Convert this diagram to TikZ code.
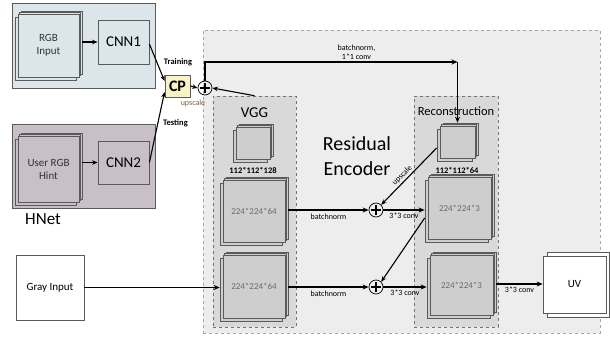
\documentclass[tikz,border=0pt]{standalone}
\usepackage{fontspec}
\setmainfont{Carlito}
\usetikzlibrary{arrows.meta,calc}

\definecolor{hnetblue}{HTML}{DBE5EA}
\definecolor{hnetmauve}{HTML}{C9BFC6}
\definecolor{cpyellow}{HTML}{F7F3C4}
\definecolor{encbg}{HTML}{EDEDED}
\definecolor{subbg}{HTML}{D9D9D9}
\definecolor{layerfill}{HTML}{CECECE}
\definecolor{edgegray}{HTML}{5A5A5A}
\definecolor{dimgraytext}{HTML}{6A6A6A}
\definecolor{upbrown}{HTML}{7A5A40}

% a stack of feature maps: three offset sheets behind a named front sheet
% #1 name, #2 x, #3 y, #4 width, #5 height, #6 fill, #7 extra options of the front sheet
\newcommand{\layerstack}[7]{%
  \foreach \sx/\sy in {3/3,1.5/1.5,-3/-3}{%
    \node[stackbox, fill=#6, minimum width=#4pt, minimum height=#5pt,
          xshift=\sx pt, yshift=\sy pt] at (#2,#3) {};}
  \node[stackbox, fill=#6, minimum width=#4pt, minimum height=#5pt, #7] (#1) at (#2,#3)}

\begin{document}
\begin{tikzpicture}[x=1pt,y=-1pt,
  arr/.style={draw=black, line width=1.3pt, -{Stealth[length=6pt,width=5pt]}},
  thinarr/.style={draw=black, line width=1.1pt, -{Stealth[length=5.5pt,width=4.5pt]}},
  panel/.style={draw=edgegray, line width=0.7pt, inner sep=0pt},
  encbox/.style={draw=gray!70, dashed, line width=0.6pt, fill=encbg, inner sep=0pt},
  subbox/.style={draw=gray!90!black, dashed, line width=0.6pt, fill=subbg, inner sep=0pt},
  stackbox/.style={draw=edgegray, line width=0.7pt, inner sep=0pt, align=center,
                   font=\fontsize{9}{10}\selectfont, text=dimgraytext},
  inputtext/.style={font=\fontsize{11}{13}\selectfont, text=black!80},
  netbox/.style={draw=edgegray, line width=0.8pt, inner sep=0pt, font=\fontsize{15}{17}\selectfont},
  plusnode/.style={circle, draw=black, line width=0.7pt, minimum size=14pt, inner sep=0pt,
    path picture={\draw[line width=1.7pt] ([xshift=-5pt]path picture bounding box.center) -- ([xshift=5pt]path picture bounding box.center);
                  \draw[line width=1.7pt] ([yshift=-5pt]path picture bounding box.center) -- ([yshift=5pt]path picture bounding box.center);}},
  lbl/.style={inner sep=1pt, font=\fontsize{8}{9}\selectfont},
  boldlbl/.style={inner sep=1pt, font=\bfseries\fontsize{8.5}{9.5}\selectfont},
]
\useasboundingbox (0,0) rectangle (610,337);

% ---------- containers ----------
\node[encbox, minimum width=397pt, minimum height=303pt] (enc) at (401.5,181.5) {};
\node[panel, fill=hnetblue, minimum width=143pt, minimum height=85pt] (hntop) at (83.5,45.5) {};
\node[panel, fill=hnetmauve, minimum width=143pt, minimum height=84pt] (hnbot) at (83.5,166) {};

% ---------- HNet ----------
\layerstack{rgb}{48.5}{45.5}{61}{63}{hnetblue}{inputtext} {RGB\\Input};
\layerstack{hint}{48.5}{169}{61}{66}{hnetmauve}{inputtext} {User RGB\\Hint};

\node[netbox, fill=hnetblue, minimum width=51pt, minimum height=44pt] (cnn1) at (123.5,42) {CNN1};
\node[netbox, fill=hnetmauve, minimum width=51pt, minimum height=43pt] (cnn2) at (123.5,162.5) {CNN2};

\node[font=\fontsize{17}{19}\selectfont, inner sep=0pt] (hnet) at (43,219) {HNet};

\node[draw=edgegray, line width=0.9pt, fill=cpyellow, minimum width=25pt, minimum height=22pt,
      inner sep=0pt, font=\bfseries\fontsize{16}{18}\selectfont] (cp) at (177.5,86) {CP};
\node[boldlbl] (trainlbl) at (178,62) {Training};
\node[boldlbl] (testlbl) at (175.5,123) {Testing};

\node[plusnode] (p0) at (205,88) {};

% ---------- Residual Encoder ----------
\node[font=\fontsize{20}{25}\selectfont, align=center, inner sep=0pt] (enctitle) at (357,156) {Residual\\Encoder};

\node[subbox, minimum width=83pt, minimum height=231pt] (vgg) at (254.5,211.5) {};
\node[font=\fontsize{15}{17}\selectfont, inner sep=0pt] (vggtitle) at (254.5,113) {VGG};
\node[subbox, minimum width=84pt, minimum height=231pt] (rec) at (456,211.5) {};
\node[font=\fontsize{12.5}{14}\selectfont, inner sep=0pt] (rectitle) at (456,111) {Reconstruction};

\layerstack{vs}{253}{143}{34}{32}{layerfill}{} {};
\node[boldlbl] (vslbl) at (253,170) {112*112*128};
\layerstack{vt}{254}{211}{62}{62}{layerfill}{} {224*224*64};
\layerstack{vb}{254}{286.5}{62}{63}{layerfill}{} {224*224*64};

\layerstack{rs}{457.5}{142}{35}{32}{layerfill}{} {};
\node[boldlbl] (rslbl) at (457,170) {112*112*64};
\layerstack{rt}{459.5}{208}{63}{62}{layerfill}{} {224*224*3};
\layerstack{rb}{461.5}{285}{63}{60}{layerfill}{} {224*224*3};

\node[plusnode] (p1) at (376,210) {};
\node[plusnode] (p2) at (376,287) {};

% ---------- inputs / outputs ----------
\node[draw=edgegray, line width=0.7pt, fill=white, minimum width=68pt, minimum height=65pt,
      inner sep=0pt, font=\fontsize{11}{13}\selectfont] (gray) at (50,287.5) {Gray Input};

\node[draw=edgegray, line width=0.7pt, fill=white, minimum width=62pt, minimum height=65pt] (uvback) at (578,284.5) {};
\node[draw=edgegray, line width=0.7pt, fill=white, minimum width=63pt, minimum height=57pt,
      font=\fontsize{11}{13}\selectfont] (uv) at (574.5,284.5) {UV};

% ---------- connectors ----------
\draw[thinarr] ([xshift=3pt]rgb.east |- cnn1.west) -- (cnn1.west);
\draw[thinarr] ([xshift=3pt]hint.east |- cnn2.west) -- (cnn2.west);

\draw[thinarr] ([yshift=-2pt]cnn1.east) -- ([yshift=5pt]cp.west);
\draw[thinarr] (cnn2.east) -- ([yshift=-6pt]cp.west);

\draw[thinarr] (cp.east) -- (p0.west);
\node[lbl, text=upbrown] (upl) at (193,103) {upscale};
\draw[thinarr] (vgg.north) -- (p0.east);

\coordinate (turn) at (457.5,62);
\draw[arr] (p0.north) |- (turn)
  node[lbl, align=center, pos=0.8, above=1pt] {batchnorm,\\1*1 conv};
\draw[arr] (turn) -- ([yshift=3pt]rs.north);

\draw[arr] ([xshift=3pt]vt.east |- p1.west) -- (p1.west)
  node[lbl, midway, below=2pt] {batchnorm};
\draw[arr] (p1.east) -- ([xshift=-3pt]p1.east -| rt.west)
  node[lbl, midway, below=1pt] {3*3 conv};
\draw[thinarr] ([xshift=-3pt,yshift=-6pt]rs.west) -- (p1.north east)
  node[lbl, sloped, pos=0.55, above=0.5pt] {upscale};
\draw[thinarr] ([xshift=-3pt,yshift=-10pt]rt.west) -- (p2.north east);

\draw[arr] ([xshift=3pt]vb.east |- p2.west) -- (p2.west)
  node[lbl, midway, below=2pt] {batchnorm};
\draw[arr] (p2.east) -- ([xshift=-3pt]p2.east -| rb.west)
  node[lbl, midway, below=1pt] {3*3 conv};

\draw[arr] (gray.east) -- ([xshift=-3pt]gray.east -| vb.west);

\draw[arr] ([xshift=3pt,yshift=1pt]rb.east) -- ([yshift=1pt]rb.east -| uv.west)
  node[lbl, midway, below=1pt] {3*3 conv};

\end{tikzpicture}
\end{document}
